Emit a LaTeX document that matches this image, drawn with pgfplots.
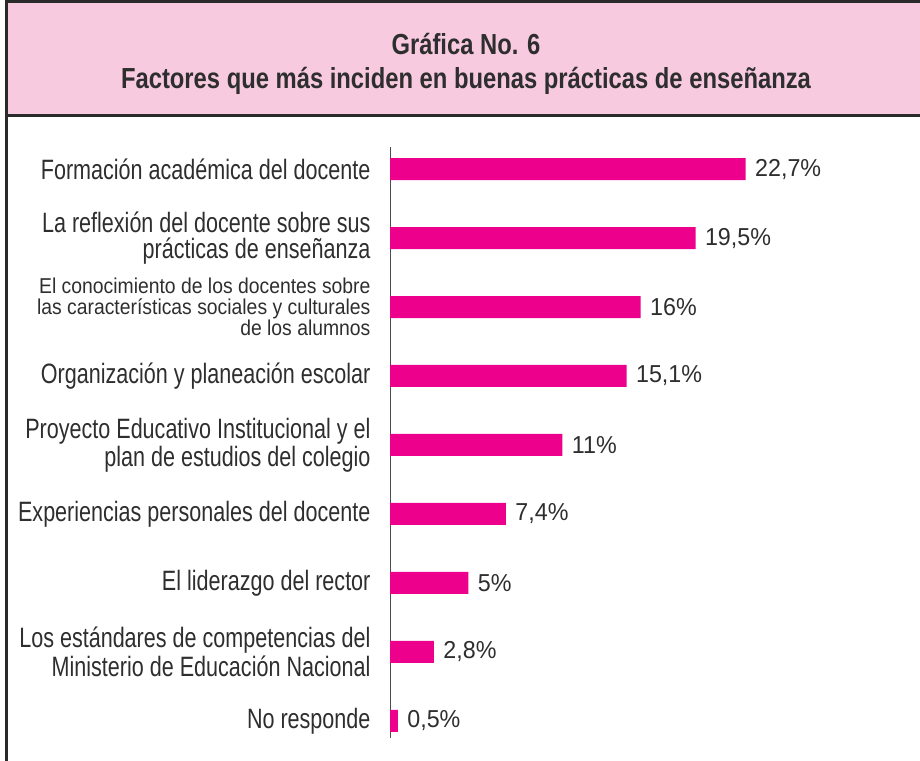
\documentclass[border=0pt]{standalone}
\usepackage{fontspec}
\setmainfont{Liberation Sans}[FakeStretch=0.77]
\newfontfamily\titlefont{Liberation Sans}[FakeStretch=0.82]
\newfontfamily\smallfont{Liberation Sans}[FakeStretch=0.9]
\newfontfamily\valfont{Liberation Sans}[FakeStretch=0.95]
\usepackage{pgfplots}
\pgfplotsset{compat=1.18}
\definecolor{barpink}{HTML}{EC008C}
\definecolor{headpink}{HTML}{F8CADF}
\definecolor{framegray}{HTML}{2A2A2A}
\definecolor{textgray}{HTML}{2E2E2E}
\begin{document}
\begin{tikzpicture}
\useasboundingbox (0pt,0pt) rectangle (920pt,-760pt);
\begin{scope}[x=1pt,y=1pt]
\clip (0,0) rectangle (920,-760);
\fill[headpink] (6,-2) rectangle (930,-115);
\draw[framegray, line width=3pt] (4.5,-2) -- (930,-2);
\draw[framegray, line width=3pt] (4.5,-115) -- (930,-115);
\draw[framegray, line width=3pt] (6,-0.5) -- (6,-770);
\node[font=\titlefont\bfseries\fontsize{29}{32}\selectfont, text=textgray] at (466,-44) {Gráfica No. 6};
\node[font=\titlefont\bfseries\fontsize{29}{32}\selectfont, text=textgray] at (466,-81) {Factores que más inciden en buenas prácticas de enseñanza};
\end{scope}
\begin{scope}
\clip (19pt,-120pt) rectangle (920pt,-760pt);
\begin{axis}[
  at={(390pt,-147pt)}, anchor=north west,
  scale only axis, width=470pt, height=591pt,
  xmin=0, xmax=30, ymin=-0.32, ymax=8.25, y dir=reverse,
  axis x line=none, axis y line*=left,
  y axis line style={-, color=black!70, line width=1pt},
  ytick={0,1,2,3,4,5,6,7,8},
  major tick length=0pt,
  /pgf/number format/assume math mode=true,
  yticklabel style={align=right, font=\fontsize{28}{23}\selectfont, text=textgray, xshift=-16pt},
  yticklabels={
    {Formación académica del docente},
    {La reflexión del docente sobre sus\\[3pt]prácticas de enseñanza},
    {\smallfont\fontsize{21.5}{21}\selectfont El conocimiento de los docentes sobre\\[-2pt]\smallfont\fontsize{21.5}{21}\selectfont las características sociales y culturales\\[-2pt]\smallfont\fontsize{21.5}{21}\selectfont de los alumnos},
    {Organización y planeación escolar},
    {Proyecto Educativo Institucional y el\\[1pt]plan de estudios del colegio},
    {Experiencias personales del docente},
    {El liderazgo del rector},
    {Los estándares de competencias del\\[1pt]Ministerio de Educación Nacional},
    {No responde}
  },
  clip=false,
]
\addplot[xbar, fill=barpink, draw=none, bar width=22pt,
  nodes near coords={\pgfmathprintnumber[use comma,assume math mode=true]{\pgfplotspointmeta}\%},
  point meta=explicit,
  nodes near coords style={anchor=west, font=\valfont\fontsize{24.5}{26}\selectfont, text=textgray, xshift=6pt}]
  coordinates {
    (22.7,0) [22.7]
    (19.5,1) [19.5]
    (16,2) [16]
    (15.1,3) [15.1]
    (11,4) [11]
    (7.4,5) [7.4]
    (5,6) [5]
    (2.8,7) [2.8]
    (0.5,8) [0.5]
  };
\end{axis}
\end{scope}
\end{tikzpicture}
\end{document}
